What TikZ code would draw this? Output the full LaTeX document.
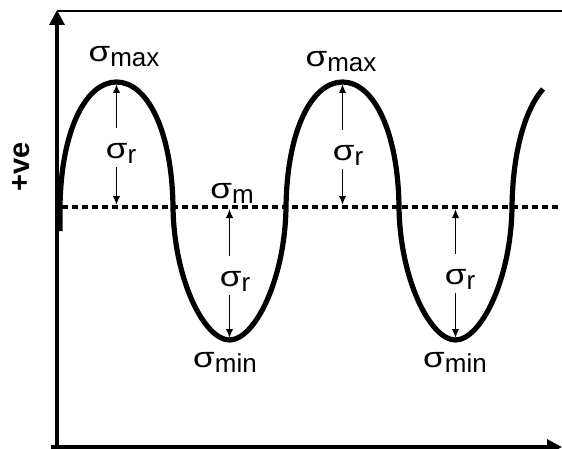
\documentclass[tikz,border=0pt]{standalone}
\usepackage{fontspec}
\setmainfont{Liberation Sans}
\usepackage{graphicx}
\usetikzlibrary{arrows.meta,positioning}

\newcommand{\sigmalbl}[1]{\scalebox{1.35}[1.1]{σ}\raisebox{-2.5pt}{#1}}

\begin{document}
\begin{tikzpicture}[
  x=0.5pt, y={(0pt,-0.5pt)},
  axisline/.style={line width=1.6pt, -{Triangle[length=7.5pt,width=7.5pt]}},
  wave/.style={line width=2.6pt, line join=round},
  meanline/.style={line width=1.8pt, dash pattern=on 3pt off 2pt},
  stresslabel/.style={inner sep=0pt, font=\fontsize{13pt}{15pt}\selectfont},
  rangearrow/.style={line width=0.85pt, -{Latex[length=4.5pt,width=3.8pt]}, shorten >=1pt},
  uparrow/.style={rangearrow, shorten <=7.5pt},
  downarrow/.style={rangearrow, shorten <=2pt},
]
\useasboundingbox (0,0) rectangle (562,449);

% axes and frame
\coordinate (origin) at (57,447);
\coordinate (ytop) at (57,10);
\coordinate (xend) at (562,447);
\coordinate (frame-r) at (562,11);
\draw[axisline] (57,449) -- (ytop);
\draw[axisline] (51,447) -- (xend);
\draw[line width=1.1pt] (57,11) -- (frame-r);

% mean stress line
\coordinate (mean-l) at (62,207);
\coordinate (mean-r) at (562,207);
\draw[meanline] (mean-l) -- (mean-r);

% extremes of the cycle
\coordinate (p1) at (116.5,82);
\coordinate (t1) at (229.5,340);
\coordinate (p2) at (342.5,82);
\coordinate (t2) at (455.5,340);

% stress cycle
\draw[wave] (60,231) -- (60,207)
  .. controls (61,130) and (86,82) .. (p1)
  .. controls (147,82) and (172,130) .. (173,207)
  .. controls (174,280) and (204.5,340) .. (t1)
  .. controls (254.5,340) and (285,280) .. (286,207)
  .. controls (287,130) and (312,82) .. (p2)
  .. controls (373,82) and (398,130) .. (399,207)
  .. controls (400,280) and (430.5,340) .. (t2)
  .. controls (480.5,340) and (511,280) .. (512,207)
  .. controls (512.7,153) and (524.6,110) .. (543,89);

% labels
\node[stresslabel] (max1) at (124,57) {\sigmalbl{max}};
\node[stresslabel] (max2) at (341,62) {\sigmalbl{max}};
\node[stresslabel] (r1) at (121,153) {\sigmalbl{r}};
\node[stresslabel] (r2) at (348,155) {\sigmalbl{r}};
\node[stresslabel] (mean) at (232,193) {\sigmalbl{m}};
\node[stresslabel] (r3) at (235,281) {\sigmalbl{r}};
\node[stresslabel] (r4) at (460,279) {\sigmalbl{r}};
\node[stresslabel] (min1) at (225,362) {\sigmalbl{min}};
\node[stresslabel] (min2) at (455,362) {\sigmalbl{min}};
\node[rotate=90, inner sep=0pt, font=\bfseries\fontsize{14.5pt}{16pt}\selectfont] (sign) at (21,167) {+ve};

% stress range arrows
\draw[uparrow] (r1.north -| p1) -- (p1);
\draw[downarrow] (r1.south -| p1) -- (p1 |- mean-l);
\draw[uparrow] (r2.north -| p2) -- (p2);
\draw[downarrow] (r2.south -| p2) -- (p2 |- mean-l);
\draw[uparrow] (r3.north -| t1) -- (t1 |- mean-l);
\draw[downarrow] (r3.south -| t1) -- (t1);
\draw[uparrow] (r4.north -| t2) -- (t2 |- mean-l);
\draw[downarrow] (r4.south -| t2) -- (t2);
\end{tikzpicture}
\end{document}
